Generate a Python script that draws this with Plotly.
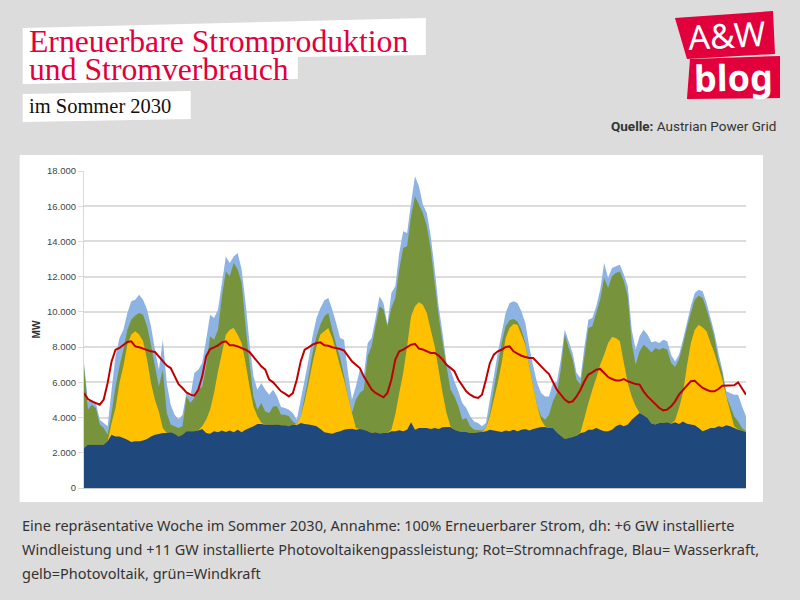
import plotly.graph_objs as go

# hours of the week, one reading per hour
hours = list(range(169))

# upper edge of each coloured band in MW (one row per day)
hydro = [2270, 2460, 2460, 2460, 2460, 2460, 2650, 3030, 2930, 2930, 2840, 2740, 2610, 2650, 2650, 2700, 2780, 2930, 3030, 3060, 3120, 3120, 3160, 3080,
         2930, 3030, 3220, 3220, 3220, 3270, 3350, 3120, 3080, 3220, 3160, 3270, 3180, 3270, 3160, 3310, 3160, 3310, 3400, 3500, 3630, 3630, 3590, 3590,
         3590, 3600, 3560, 3560, 3500, 3600, 3560, 3690, 3630, 3600, 3560, 3500, 3350, 3160, 3120, 3080, 3160, 3220, 3310, 3350, 3370, 3310, 3350, 3310,
         3220, 3125, 3160, 3090, 3125, 3125, 3220, 3220, 3280, 3220, 3310, 3730, 3310, 3410, 3410, 3410, 3350, 3410, 3350, 3450, 3470, 3470, 3310, 3220,
         3180, 3180, 3120, 3120, 3160, 3180, 3220, 3310, 3270, 3220, 3180, 3270, 3220, 3310, 3220, 3310, 3350, 3270, 3350, 3400, 3460, 3460, 3400, 3400,
         3150, 2970, 2780, 2840, 2900, 2970, 3120, 3160, 3310, 3310, 3400, 3310, 3220, 3220, 3310, 3500, 3600, 3500, 3600, 3880, 4070, 4260, 4130, 3975,
         3660, 3600, 3690, 3690, 3730, 3650, 3730, 3630, 3780, 3650, 3600, 3560, 3410, 3220, 3310, 3400, 3400, 3500, 3460, 3560, 3500, 3400, 3310, 3255,
         3160]
# 0 where there is no photovoltaic band above the hydro band
solar = [0, 0, 0, 0, 0, 0, 0, 3690, 4540, 5960, 6910, 8140, 8710, 8900, 8710, 8330, 7290, 5960, 5010, 4350, 3400, 0, 0, 0,
         0, 0, 0, 0, 0, 0, 3500, 3880, 4450, 5390, 6620, 7660, 8700, 8990, 9080, 8700, 8230, 7100, 5770, 4630, 4070, 3700, 0, 0,
         0, 0, 0, 0, 0, 0, 3600, 4070, 4920, 5960, 7100, 8040, 8710, 8900, 9090, 8520, 7760, 6910, 6150, 5200, 4260, 3400, 0, 0,
         0, 0, 0, 0, 0, 0, 3310, 4170, 5400, 6530, 8050, 9750, 10320, 10550, 10410, 9940, 8990, 8050, 6720, 5400, 4260, 3500, 0, 0,
         0, 0, 0, 0, 0, 0, 3400, 4070, 5020, 5960, 7100, 8520, 9080, 9310, 9270, 8710, 8140, 6910, 5770, 4640, 3880, 3500, 0, 0,
         0, 0, 0, 0, 0, 0, 3160, 3975, 4830, 5580, 6250, 7000, 7570, 8230, 8575, 8520, 8330, 7100, 5960, 5200, 4640, 4260, 0, 0,
         0, 0, 0, 0, 0, 0, 3840, 4540, 5390, 6910, 8230, 8990, 9270, 9120, 8900, 8230, 7670, 6910, 6150, 5200, 4350, 3500, 0, 0,
         0]
wind = [6900, 4450, 4730, 4540, 3600, 3400, 3030, 4260, 5770, 6910, 7850, 8990, 9560, 9790, 9940, 9840, 9180, 8140, 6910, 5770, 6720, 4260, 3600, 3500,
        3400, 3500, 5200, 4820, 5110, 5580, 5770, 6910, 8610, 8420, 8990, 10880, 12300, 12020, 12780, 12400, 11640, 9180, 7100, 5200, 4450, 4820, 4350, 4260,
        4630, 4640, 4160, 4160, 4070, 3780, 3500, 3880, 5200, 6340, 7660, 8610, 9280, 9750, 9940, 8990, 8140, 7380, 6340, 5200, 4070, 5020, 5390, 5580,
        7500, 8050, 9180, 10320, 10130, 9180, 10220, 10790, 12400, 13630, 13730, 15430, 16570, 16090, 15620, 14860, 13540, 11640, 9750, 8240, 6910, 5590, 5210, 4640,
        3880, 3970, 3500, 3310, 3300, 3270, 3270, 4260, 5580, 6910, 8230, 9180, 9520, 9600, 9460, 8990, 8230, 6910, 5770, 4640, 4070, 3880, 4160, 4920,
        5390, 6720, 8710, 7950, 7290, 6150, 5870, 7480, 9090, 9180, 9940, 10700, 11930, 11360, 12020, 12210, 12300, 11740, 10880, 8230, 7000, 7760, 8140, 7950,
        7700, 7950, 7850, 7950, 7850, 7100, 6870, 7290, 8140, 9090, 9940, 10690, 10920, 10790, 10130, 9370, 8520, 7290, 6530, 5200, 4640, 4070, 3780, 3400,
        3220]
surplus = [7100, 4920, 5010, 4830, 3880, 3690, 3500, 5580, 7480, 8520, 8990, 9940, 10600, 10690, 10980, 10690, 10130, 9180, 7850, 6720, 8420, 5960, 4730, 4160,
           3900, 4160, 5390, 5200, 6530, 6720, 7100, 8420, 9840, 9650, 10120, 11640, 13150, 12780, 13150, 13340, 12400, 10500, 8230, 6340, 5580, 5960, 5580, 5300,
           5580, 5200, 4600, 4540, 4450, 4260, 3880, 5020, 6150, 7290, 8610, 9650, 10220, 10660, 10790, 10130, 9370, 8520, 8420, 6530, 5020, 5770, 6720, 6340,
           8230, 8520, 9660, 10890, 10510, 9280, 11070, 11450, 13350, 14580, 14480, 16190, 17700, 17130, 16090, 15620, 14300, 12400, 10320, 8800, 7100, 6720, 6060, 5490,
           4830, 4540, 4070, 3780, 3690, 3500, 3690, 5020, 6340, 7660, 8800, 9940, 10500, 10600, 10500, 10030, 9370, 8040, 6910, 5960, 5390, 5200, 5200, 5960,
           6000, 7290, 8990, 8330, 7670, 6530, 6250, 8040, 9560, 9650, 10320, 11260, 12780, 11930, 12490, 12590, 12680, 12120, 11450, 8990, 7860, 8610, 8990, 8710,
           8280, 8330, 8230, 8420, 8330, 7570, 7190, 7570, 8420, 9370, 10320, 11070, 11260, 11170, 10500, 9650, 8800, 7670, 6720, 5490, 5390, 5300, 5300, 4640,
           4070]
demand = [5390, 5050, 4920, 4830, 4730, 5020, 5960, 7190, 7850, 7950, 8100, 8290, 8330, 8040, 7990, 7910, 7820, 7760, 7720, 7480, 7190, 6950, 6810, 6340,
          5900, 5680, 5430, 5300, 5240, 5580, 6340, 7470, 7890, 7990, 8100, 8270, 8330, 8100, 8100, 8040, 7950, 7850, 7720, 7440, 7190, 6910, 6720, 6150,
          6000, 5770, 5490, 5360, 5200, 5390, 6150, 7190, 7850, 7990, 8140, 8230, 8270, 8100, 8080, 7990, 7950, 7890, 7800, 7480, 7190, 7000, 6810, 6340,
          5960, 5590, 5400, 5250, 5150, 5400, 6150, 7290, 7760, 7860, 8010, 8140, 8180, 7910, 7860, 7760, 7670, 7670, 7520, 7290, 7000, 6820, 6630, 6150,
          5820, 5490, 5300, 5170, 5110, 5300, 6150, 7100, 7570, 7760, 7850, 8010, 8040, 7760, 7630, 7510, 7440, 7380, 7380, 7140, 6870, 6680, 6470, 6060,
          5580, 5300, 5020, 4865, 4920, 5200, 5580, 6060, 6440, 6570, 6720, 6760, 6530, 6300, 6190, 6110, 6110, 6190, 6060, 5960, 5900, 5870, 5490, 5200,
          4970, 4730, 4540, 4410, 4450, 4640, 4920, 5300, 5580, 5810, 6060, 6090, 5870, 5680, 5580, 5490, 5490, 5620, 5810, 5810, 5810, 5830, 6000, 5680,
          5300]

y_ticks = list(range(0, 20000, 2000))

RED = '#e2003c'
GREY = '#dcdcdc'
# plot area in page pixels
LEFT, RIGHT, TOP, BOTTOM = 84.3, 746, 171, 488


def px(x):
    return (x - LEFT) / (RIGHT - LEFT)


def py(y):
    return (BOTTOM - y) / (BOTTOM - TOP)


def poly(points, color):
    path = 'M ' + ' L '.join('%.4f %.4f' % (px(a), py(b)) for a, b in points) + ' Z'
    return dict(type='path', path=path, xref='paper', yref='paper', fillcolor=color,
                line_width=0, layer='below')


def label(x, y, text, size, color, font, angle=0, anchor='left', **kw):
    return dict(x=px(x), y=py(y), xref='paper', yref='paper', text=text, showarrow=False, xanchor=anchor,
                yanchor='middle', textangle=angle, font=dict(size=size, color=color, family=font), **kw)


solar_top = [max(a, b) for a, b in zip(solar, hydro)]
wind_top = [max(a, b) for a, b in zip(wind, solar_top)]
surplus_top = [max(a, b) for a, b in zip(surplus, wind_top)]

bands = [(surplus_top, '#8db3e2'), (wind_top, '#77933c'), (solar_top, '#ffc000'), (hydro, '#1f497d')]
data = []
for values, color in bands:
    data.append(go.Scatter(x=hours, y=values, mode='none', fill='tozeroy', fillcolor=color, hoverinfo='skip'))
data.append(go.Scatter(x=hours, y=demand, mode='lines', line=dict(color='#c00000', width=2)))

shapes = [
    poly([(20, 155), (763, 155), (763, 502), (20, 502)], 'white'),
    poly([(23, 28), (426, 18), (426, 55), (298, 57), (298, 79), (23, 84)], 'white'),
    poly([(23, 94), (191, 91), (191, 119), (23, 122)], 'white'),
    poly([(675, 18), (773, 11), (775, 54), (687, 59)], RED),
    poly([(690, 59), (780, 56), (780, 98), (687, 99)], RED),
]

annotations = [
    label(27.5, 41, 'Erneuerbare Stromproduktion', 31.7, RED, 'Liberation Serif', height=26),
    label(27.5, 69, 'und Stromverbrauch', 31.7, RED, 'Liberation Serif', height=26),
    label(27.5, 106, 'im Sommer 2030', 20.5, '#111111', 'Liberation Serif'),
    label(727, 35, 'A&W', 34, 'white', 'Noto Sans', angle=-3, anchor='center'),
    label(734, 77, '<b>blog</b>', 36, 'white', 'Noto Sans', angle=-1, anchor='center'),
    label(778, 126, '<b>Quelle:</b> Austrian Power Grid', 13.5, '#333333', 'Roboto', anchor='right'),
    label(20, 525, 'Eine repräsentative Woche im Sommer 2030, Annahme: 100% Erneuerbarer Strom, dh: +6 GW installierte',
          14.5, '#333333', 'Noto Sans'),
    label(20, 549, 'Windleistung und +11 GW installierte Photovoltaikengpassleistung; Rot=Stromnachfrage, Blau= Wasserkraft,',
          14.5, '#333333', 'Noto Sans'),
    label(20, 573, 'gelb=Photovoltaik, grün=Windkraft', 14.5, '#333333', 'Noto Sans'),
]

layout = go.Layout(
    width=800, height=600, autosize=False, showlegend=False, separators=',.',
    margin=dict(l=LEFT, r=800 - RIGHT, t=TOP, b=600 - BOTTOM, pad=0),
    paper_bgcolor=GREY, plot_bgcolor='rgba(0,0,0,0)',
    xaxis=dict(range=[0, 168], showgrid=False, zeroline=False, showticklabels=False, ticks='',
               showline=True, linecolor='#c8c8c8', linewidth=1),
    yaxis=dict(range=[0, 18000], tickvals=y_ticks, tickformat=',d', gridcolor='#dcdcdc', gridwidth=1.5,
               zeroline=False, showline=True, linecolor='#d9d9d9', linewidth=1, ticks='outside', ticklen=5,
               tickcolor='#d9d9d9', tickfont=dict(size=9.5, color='#444444', family='Liberation Sans'),
               title=dict(text='<b>MW</b>', standoff=4, font=dict(size=10, color='#333333', family='Liberation Sans'))),
    shapes=shapes, annotations=annotations,
)

fig = go.Figure(data=data, layout=layout)
# page default margin would push the 800x600 figure off by 8px
fig.write_html("out.html", config={'displayModeBar': False},
               post_script="document.body.style.margin='0';document.body.style.overflow='hidden';")
